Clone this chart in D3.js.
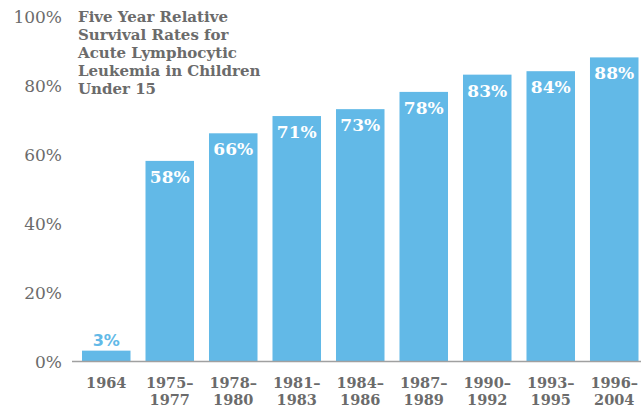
<!DOCTYPE html>
<html>
<head>
<meta charset="utf-8">
<script src="https://cdn.jsdelivr.net/npm/d3@7"></script>
<style>
  html, body { margin: 0; padding: 0; background: #fff; }
  svg { display: block; }
</style>
</head>
<body>
<svg id="chart" width="641" height="408"></svg>
<script>
// Survival rates by diagnosis period
const periods = [["1964"], ["1975–", "1977"], ["1978–", "1980"], ["1981–", "1983"], ["1984–", "1986"],
                 ["1987–", "1989"], ["1990–", "1992"], ["1993–", "1995"], ["1996–", "2004"]];
const rates = [3, 58, 66, 71, 73, 78, 83, 84, 88];
const yTicks = [0, 20, 40, 60, 80, 100];
const titleLines = ["Five Year Relative", "Survival Rates for", "Acute Lymphocytic", "Leukemia in Children", "Under 15"];

const barColor = "#62b9e7";
const textGray = "#6b6b6b";
const slab = "'DejaVu Serif', serif";

const svg = d3.select("#chart");

const x = d3.scaleBand()
  .domain(d3.range(periods.length))
  .range([82, 638.5])
  .paddingInner(0.236)
  .paddingOuter(0);

const y = d3.scaleLinear().domain([0, 100]).range([361, 16]);

// y-axis labels
const yAxis = d3.axisLeft(y)
  .tickValues(yTicks)
  .tickFormat(d => d + "%")
  .tickSize(0)
  .tickPadding(0);
const yg = svg.append("g").attr("transform", "translate(62,0)").call(yAxis);
yg.select(".domain").remove();
yg.selectAll("text")
  .attr("fill", textGray)
  .attr("font-family", slab)
  .attr("font-size", 17)
  .attr("dy", "0.36em");

// bars
svg.append("g").selectAll("rect")
  .data(rates)
  .join("rect")
  .attr("x", (d, i) => x(i))
  .attr("width", x.bandwidth())
  .attr("y", d => y(d))
  .attr("height", d => y(0) - y(d))
  .attr("fill", barColor);

// baseline
svg.append("line")
  .attr("x1", 72).attr("x2", 641)
  .attr("y1", y(0) + 0.5).attr("y2", y(0) + 0.5)
  .attr("stroke", "#a0a0a0")
  .attr("stroke-width", 1.5);

// value labels: inside tall bars, above short ones
svg.append("g").selectAll("text")
  .data(rates)
  .join("text")
  .attr("x", (d, i) => x(i) + x.bandwidth() / 2)
  .attr("y", d => d < 10 ? y(d) - 5 : y(d) + 22)
  .attr("text-anchor", "middle")
  .attr("font-family", d => d < 10 ? "'DejaVu Sans', sans-serif" : slab)
  .attr("font-weight", "bold")
  .attr("font-size", d => d < 10 ? 16 : 17)
  .attr("fill", d => d < 10 ? barColor : "#fff")
  .text(d => d + "%");

// period labels
const xl = svg.append("g").selectAll("text")
  .data(periods)
  .join("text")
  .attr("x", (d, i) => x(i) + x.bandwidth() / 2)
  .attr("y", 388)
  .attr("text-anchor", "middle")
  .attr("font-family", slab)
  .attr("font-weight", "bold")
  .attr("font-size", 14.5)
  .attr("fill", textGray);
xl.selectAll("tspan")
  .data(d => d)
  .join("tspan")
  .attr("x", function () { return d3.select(this.parentNode).attr("x"); })
  .attr("dy", (d, i) => i === 0 ? 0 : 17)
  .text(d => d);

// title
svg.append("text")
  .attr("x", 78)
  .attr("y", 22)
  .attr("font-family", slab)
  .attr("font-weight", "bold")
  .attr("font-size", 15)
  .attr("fill", textGray)
  .selectAll("tspan")
  .data(titleLines)
  .join("tspan")
  .attr("x", 78)
  .attr("dy", (d, i) => i === 0 ? 0 : 18)
  .text(d => d);
</script>
</body>
</html>
